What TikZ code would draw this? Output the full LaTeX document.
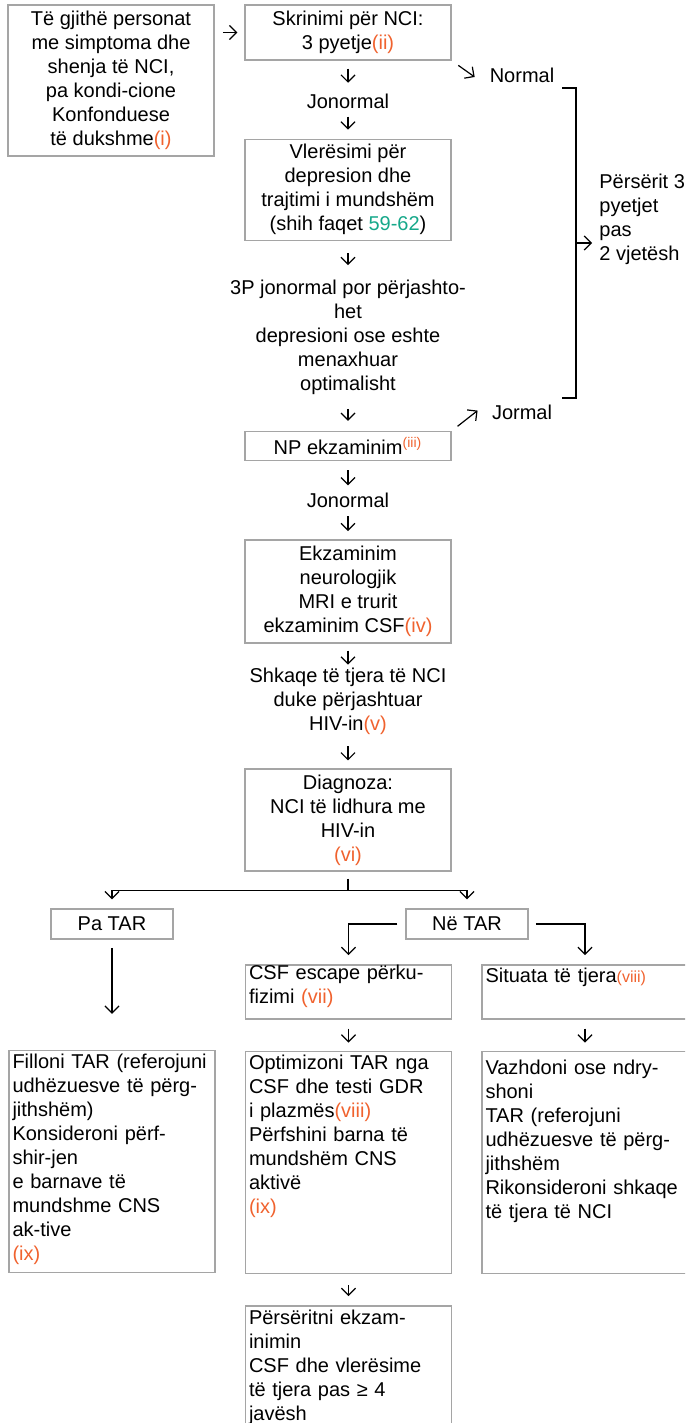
\documentclass[tikz,border=0pt]{standalone}
\usepackage{fontspec}
\setmainfont{Liberation Sans}
\usepackage{xcolor}
\usetikzlibrary{arrows.meta,calc,positioning}
\definecolor{boxgray}{RGB}{165,165,165}
\definecolor{noteorange}{RGB}{240,98,46}
\definecolor{pageteal}{RGB}{22,168,138}
\newcommand{\noteclr}[1]{{\color{noteorange}#1}}
\newcommand{\pageclr}[1]{{\color{pageteal}#1}}

\begin{document}
\begin{tikzpicture}[x=0.5pt, y=-0.5pt,
  font=\fontsize{10}{12}\selectfont,
  box/.style={draw=boxgray, line width=0.75pt, align=center, minimum width=103pt, inner sep=0pt},
  lbox/.style={draw=boxgray, line width=0.75pt, align=left, text width=99.5pt, inner xsep=1.75pt, inner ysep=0pt, anchor=north},
  lbl/.style={align=center, inner sep=0pt, minimum height=12pt},
  arr/.style={-{Straight Barb[length=3.5pt,width=7pt]}, line width=0.6pt},
  shortby/.style 2 args={shorten <=#1, shorten >=#2}]
  \useasboundingbox (0,0) rectangle (685,1423);
  \clip (0,0) rectangle (685,1423);

  % main column
  \node[box, minimum height=75.5pt] (all) at (111,80.5) {Të gjithë personat\\me simptoma dhe\\shenja të NCI,\\pa kondi-cione\\Konfonduese\\të dukshme\noteclr{(i)}};
  \node[box, minimum height=27.5pt] (scr) at (348,32.5) {Skrinimi për NCI:\\3 pyetje\noteclr{(ii)}};
  \node[lbl, below=14pt of scr] (jon1) {Jonormal};
  \node[box, minimum height=50.5pt, below=12.5pt of jon1] (vle) {Vlerësimi për\\depresion dhe\\trajtimi i mundshëm\\(shih faqet \pageclr{59-62})};
  \node[lbl, minimum height=60pt, below=17.75pt of vle] (tp) {3P jonormal por përjashto-\\het\\depresioni ose eshte\\menaxhuar\\optimalisht};
  \node[box, minimum height=14.5pt, below=16.75pt of tp] (np) {NP ekzaminim\textsuperscript{\noteclr{(iii)}}};
  \node[lbl, below=13.5pt of np] (jon2) {Jonormal};
  \node[box, minimum height=51.5pt, below=13pt of jon2] (ekz) {Ekzaminim\\neurologjik\\MRI e trurit\\ekzaminim CSF\noteclr{(iv)}};
  \node[lbl, minimum height=36pt, below=10.5pt of ekz] (shk) {Shkaqe të tjera të NCI\\duke përjashtuar\\HIV-in\noteclr{(v)}};
  \node[box, minimum height=51pt, below=15.5pt of shk] (dia) {Diagnoza:\\NCI të lidhura me\\HIV-in\\\noteclr{(vi)}};

  % side labels
  \node[lbl] (normal) at (522,75) {Normal};
  \node[lbl] (jormal) at (522,412) {Jormal};
  \node[lbl, align=left, minimum height=48pt, anchor=west] (rep) at (599,219) {Përsërit 3\\pyetjet\\pas\\2 vjetësh};

  % branches
  \node[box, minimum width=61pt, minimum height=15pt] (pa) at (112,924) {Pa TAR};
  \node[box, minimum width=61pt, minimum height=15pt] (ne) at (467,924) {Në TAR};
  \node[lbox, text height=7.5pt, text depth=19.5pt] (csf) at (348.5,964) {CSF escape përku-\\fizimi \noteclr{(vii)}};
  \node[lbox, text height=9pt, text depth=18pt] (sit) at (585,964) {Situata të tjera{\footnotesize\noteclr{(viii)}}};
  \node[lbox, text height=9pt, text depth=102pt, below=55pt of pa] (fil) {Filloni TAR (referojuni\\udhëzuesve të përg-\\jithshëm)\\Konsideroni përf-\\shir-jen\\e barnave të\\mundshme CNS\\ak-tive\\\noteclr{(ix)}};
  \node[lbox, text height=9pt, text depth=102pt, below=15.5pt of csf] (opt) {Optimizoni TAR nga\\CSF dhe testi GDR\\i plazmës\noteclr{(viii)}\\Përfshini barna të\\mundshëm CNS\\aktivë\\\noteclr{(ix)}};
  \node[lbox, text height=11.5pt, text depth=99.5pt, below=15.5pt of sit] (vaz) {Vazhdoni ose ndry-\\shoni\\TAR (referojuni\\udhëzuesve të përg-\\jithshëm\\Rikonsideroni shkaqe\\të tjera të NCI};
  \node[lbox, text height=9.5pt, text depth=54.5pt, below=15.5pt of opt] (per) {Përsëritni ekzam-\\inimin\\CSF dhe vlerësime\\të tjera pas ≥ 4\\javësh};

  % connectors
  \draw[arr, shortby={4pt}{3.5pt}] (all.east |- scr.west) -- (scr.west);
  \draw[arr, shortby={4pt}{3pt}] (scr) -- (jon1);
  \draw[arr, shortby={1.5pt}{4.5pt}] (jon1) -- (vle);
  \draw[arr, shortby={6pt}{5.75pt}] (vle) -- (tp);
  \draw[arr, shortby={5.75pt}{5pt}] (tp) -- (np);
  \draw[arr, shortby={4.5pt}{1.5pt}] (np) -- (jon2);
  \draw[arr, shortby={1.5pt}{4pt}] (jon2) -- (ekz);
  \draw[arr, shortby={3.5pt}{0pt}] (ekz) -- (shk);
  \draw[arr, shortby={4.5pt}{4pt}] (shk) -- (dia);
  \draw[arr, shortby={4pt}{9pt}] (scr.south east) -- (normal.south west);
  \draw[arr, shortby={3.7pt}{8.9pt}] (np.north east) -- (jormal.north west);

  % repeat bracket
  \coordinate (brtop) at (562,88);
  \coordinate (brbot) at (562,398);
  \coordinate (brmid) at (576,243);
  \draw[line width=0.6pt] (brtop) -- (brtop -| brmid) -- (brbot -| brmid) -- (brbot);
  \draw[arr, shorten >=3.5pt] (brmid) -- (brmid -| rep.west);

  \draw[arr, shortby={3.5pt}{4.5pt}] (dia.south) |- ($(dia.south)!.5!(pa.north)$) -| (pa.north);
  \draw[arr, shortby={3.5pt}{4.5pt}] (dia.south) |- ($(dia.south)!.5!(ne.north)$) -| (ne.north);
  \draw[arr, shortby={4pt}{4.5pt}] (ne.west) -| (csf.north);
  \draw[arr, shortby={3.5pt}{4.5pt}] (ne.east) -| (sit.north);
  \draw[arr, shortby={4pt}{18pt}] (pa.south) -- (fil.north);
  \draw[arr, shortby={4.5pt}{4pt}] (csf) -- (opt);
  \draw[arr, shortby={4.5pt}{4pt}] (sit) -- (vaz);
  \draw[arr, shortby={5.5pt}{4.5pt}] (opt) -- (per);
\end{tikzpicture}
\end{document}
